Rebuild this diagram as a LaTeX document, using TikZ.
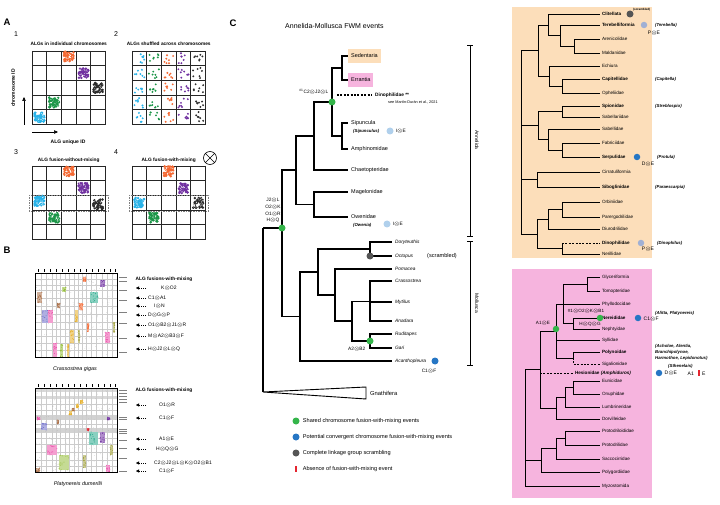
\documentclass[tikz,border=0pt]{standalone}
\usepackage{fontspec}
\setmainfont{Liberation Sans}
\usetikzlibrary{arrows.meta, positioning, calc}

% colours
\definecolor{algorange}{RGB}{244,104,50}
\definecolor{algpurple}{RGB}{112,48,160}
\definecolor{algblack}{RGB}{45,45,45}
\definecolor{alggreen}{RGB}{28,150,72}
\definecolor{algcyan}{RGB}{40,178,232}
\definecolor{sedfill}{RGB}{252,222,186}
\definecolor{errfill}{RGB}{246,180,222}
\definecolor{fwmgreen}{RGB}{52,181,74}
\definecolor{fwmblue}{RGB}{38,118,196}
\definecolor{fwmlight}{RGB}{176,208,236}
\definecolor{fwmpale}{RGB}{160,176,212}
\definecolor{scramgray}{RGB}{85,85,85}
\definecolor{absred}{RGB}{228,38,48}
\definecolor{synbrown}{RGB}{170,110,70}
\definecolor{synteal}{RGB}{40,170,140}
\definecolor{synviolet}{RGB}{110,110,200}
\definecolor{synpink}{RGB}{235,80,170}
\definecolor{synyellow}{RGB}{230,175,40}
\definecolor{synolive}{RGB}{160,160,60}
\definecolor{synlime}{RGB}{150,190,60}

\newcommand{\fus}{\ensuremath{\otimes}}
% dense ALG cluster in one cell
\newcommand{\algblob}[3]{%
  \foreach \k in {1,...,48} \fill[#3] ({#1+2.4+9.9*rnd},{#2+2.4+9.9*rnd}) circle (1.35pt);
  \foreach \k in {1,...,16} \fill[white] ({#1+3+8.7*rnd},{#2+3+8.7*rnd}) circle (0.35pt);}
% ALG dots shuffled in one cell
\newcommand{\algscatter}[3]{%
  \foreach \k in {1,...,7} \fill[#3] ({#1+2.2+10.3*rnd},{#2+2.2+10.3*rnd}) circle (1.05pt);}
% block of syntenic dots in a dot plot
\newcommand{\synblock}[5]{%
  \fill[#5!55] (#1,#2) rectangle (#3,#4);
  \foreach \k in {1,...,14} \fill[#5] ({#1+(#3-#1)*rnd},{#2+(#4-#2)*rnd}) circle (0.5pt);}

\tikzset{
  panel/.style={font=\fontsize{9.5}{10}\selectfont\bfseries, inner sep=0pt},
  subnum/.style={font=\fontsize{7}{7}\selectfont, inner sep=0pt},
  gridtitle/.style={font=\fontsize{4.8}{5}\selectfont\bfseries, inner sep=0pt},
  axislab/.style={font=\fontsize{5}{5}\selectfont\bfseries, inner sep=0pt},
  cellgrid/.style={line width=0.75pt, black!85},
  plotgrid/.style={line width=0.2pt, gray!40},
  fuslab/.style={font=\fontsize{5}{5}\selectfont, inner sep=1pt, anchor=west},
  fusarr/.style={line width=0.4pt, dash pattern=on 1.2pt off 0.9pt, -{Triangle[length=3pt,width=3pt]}},
  spname/.style={font=\fontsize{5.4}{6}\selectfont\itshape},
  br/.style={line width=1.1pt},
  rbr/.style={line width=0.85pt},
  treedash/.style={dash pattern=on 2pt off 1.4pt},
  leaf/.style={anchor=west, inner sep=3pt, font=\fontsize{5.5}{6}\selectfont},
  mleaf/.style={anchor=west, inner sep=3pt, font=\fontsize{4.8}{6}\selectfont\itshape},
  rleaf/.style={anchor=west, inner sep=1.8pt, font=\fontsize{4.6}{5}\selectfont},
  rpar/.style={anchor=west, inner sep=0pt, font=\fontsize{4.3}{5}\selectfont\bfseries\itshape},
  evlab/.style={font=\fontsize{4.8}{5}\selectfont, inner sep=0.5pt},
  evdot/.style={circle, fill=#1, inner sep=0pt, minimum size=7pt},
  legtext/.style={font=\fontsize{5.6}{6}\selectfont, anchor=west, inner sep=0pt},
  clade/.style={rotate=-90, font=\fontsize{5}{5}\selectfont, inner sep=0pt}
}

\begin{document}
\begin{tikzpicture}[x=1pt, y=-1pt]
\fill[white, use as bounding box] (0,0) rectangle (720,505);
\pgfmathsetseed{42}

% Panel A: ALG grids
\node[panel] (pA) at (7,22) {A};
\foreach \gx/\gy/\ny/\ty/\num/\ttl in {32/51/34/44/1/ALGs in individual chromosomes, 132/51/34/44/2/ALGs shuffled across chromosomes, 32/166/152/160/3/ALG fusion-without-mixing, 132/166/152/160/4/ALG fusion-with-mixing} {
  \node[subnum] (num\num) at (\gx-16,\ny) {\num};
  \node[gridtitle] (ttl\num) at (\gx+36.75,\ty) {\ttl};
  \foreach \i in {0,...,5} {
    \draw[cellgrid] (\gx+\i*14.7,\gy) -- (\gx+\i*14.7,\gy+73.5);
    \draw[cellgrid] (\gx,\gy+\i*14.7) -- (\gx+73.5,\gy+\i*14.7);
  }
}
% grid 1
\algblob{61.4}{49}{algorange}
\algblob{76.1}{65.7}{algpurple}
\algblob{90.8}{80.4}{algblack}
\algblob{46.7}{95.1}{alggreen}
\algblob{32}{109.8}{algcyan}
% grid 2
\foreach \r in {0,...,4}
  \foreach \c/\col in {0/algcyan,1/alggreen,2/algorange,3/algpurple,4/algblack}
    \algscatter{132+\c*14.7}{51+\r*14.7}{\col};
% grid 3
\algblob{61.4}{164}{algorange}
\algblob{76.1}{180.7}{algpurple}
\algblob{32}{193.5}{algcyan}
\algblob{90.8}{197}{algblack}
\algblob{46.7}{210.1}{alggreen}
\draw[gray, line width=0.4pt, dash pattern=on 1.5pt off 1pt] (29,195) rectangle (108.5,211);
% grid 4
\algblob{161.4}{164}{algorange}
\algblob{176.1}{180.7}{algpurple}
\algblob{132}{195.4}{algcyan}
\algblob{190.8}{195.4}{algblack}
\foreach \k in {1,...,25} \fill[white] ({193+11*rnd},{197+12*rnd}) circle (0.45pt);
\algblob{146.7}{210.1}{alggreen}
\draw[gray, line width=0.4pt, dash pattern=on 1.5pt off 1pt] (129,195) rectangle (208.5,211);
\node[draw, circle, line width=0.6pt, minimum size=13pt, inner sep=0pt] (mixsym) at (210,158) {};
\draw[line width=0.6pt] (mixsym.north west) -- (mixsym.south east) (mixsym.north east) -- (mixsym.south west);
% axes
\draw[line width=0.5pt, -{Triangle[length=4pt,width=3.5pt]}] (24,125) -- (24,97);
\node[axislab, rotate=90] (ylab) at (13,88) {chromosome ID};
\draw[line width=0.5pt, -{Triangle[length=4pt,width=3.5pt]}] (32,132) -- (58,132);
\node[axislab] (xlab) at (68,142) {ALG unique ID};

% Panel B: dot plots
\node[panel] (pB) at (7,250) {B};
\coordinate (arrS) at (146,0);
\coordinate (arrT) at (136,0);
% Crassostrea gigas
\foreach \gx in {41,46,52,56,60,65,69,74,78,82,86,91,96,102,107,112} \draw[plotgrid] (\gx,273) -- (\gx,357);
\foreach \gy in {279,285,290,298,306,314,322,329,336,343,350} \draw[plotgrid] (35,\gy) -- (117,\gy);
\foreach \k in {1,...,170} \fill[gray!75] ({35.5+81*rnd},{273.5+83*rnd}) circle (0.22pt);
\synblock{37}{292}{42}{303}{synbrown}
\synblock{62}{287}{66}{292}{synlime}
\synblock{83}{277}{86}{282}{algorange}
\synblock{100}{280}{105}{287}{algpurple}
\synblock{90}{292}{98}{303}{synteal}
\synblock{57}{303}{60}{308}{synbrown}
\synblock{79}{303}{83}{310}{algorange}
\synblock{42}{310}{48}{323}{synviolet}
\synblock{48}{310}{53}{323}{synpink}
\synblock{75}{310}{78}{322}{synyellow}
\synblock{87}{323}{89}{332}{algorange}
\synblock{70}{330}{74}{343}{synyellow}
\synblock{78}{330}{80}{343}{synolive}
\synblock{105}{332}{110}{343}{synpink}
\synblock{113}{322}{115}{332}{synolive}
\synblock{53}{343}{57}{357}{synpink}
\synblock{60}{344}{63}{357}{synlime}
\synblock{67}{344}{69}{357}{synyellow}
\draw[line width=0.4pt] (35,273) rectangle (117,357);
\foreach \gx in {38,44,50,56,62,68,74,80,86,92,98,104,110,115} \draw[line width=0.3pt] (\gx,269) -- (\gx,271.5);
\foreach \gy in {277,281,290,300,312,323,338,352} \draw[gray, line width=0.6pt] (119,\gy) -- (127,\gy);
\node[spname] (cgname) at (75,369) {Crassostrea gigas};
\node[gridtitle] (cgtitle) at (164,279) {ALG fusions-with-mixing};
\foreach \lx/\ly/\lt [count=\i] in {160/288/K\fus O2, 147/298/C1\fus A1, 153/306/I\fus N, 147/315/D\fus G\fus P, 147/325/O1\fus B2\fus J1\fus R, 147/336/M\fus A2\fus B3\fus F, 147/349/H\fus J2\fus L\fus Q} {
  \node[fuslab] (cg\i) at (\lx,\ly) {\lt};
  \draw[fusarr] (cg\i.west -| arrS) -- (cg\i.west -| arrT);
}
% Platynereis dumerilii
\fill[gray!30] (35,389) rectangle (117,392);
\fill[gray!30] (35,396) rectangle (117,399);
\fill[gray!35] (35,415) rectangle (117,420);
\fill[gray!35] (35,428) rectangle (117,433);
\foreach \gx in {41,46,52,56,60,65,69,74,78,82,86,91,96,102,107,112} \draw[plotgrid] (\gx,388) -- (\gx,472);
\foreach \gy in {404,410,424,438,444,452,460,466} \draw[plotgrid] (35,\gy) -- (117,\gy);
\foreach \k in {1,...,220} \fill[gray!75] ({35.5+81*rnd},{388.5+83*rnd}) circle (0.22pt);
\synblock{80}{400}{83}{404}{synyellow}
\synblock{76}{404}{79}{408}{synyellow}
\synblock{72}{408}{75}{411}{synbrown}
\synblock{69}{411}{72}{415}{synyellow}
\synblock{37}{417}{40}{420}{synpink}
\synblock{57}{420}{59}{424}{synbrown}
\synblock{107}{417}{110}{420}{algpurple}
\synblock{41}{423}{47}{430}{synviolet}
\synblock{87}{428}{89}{431}{absred}
\synblock{89}{432}{98}{445}{synteal}
\synblock{100}{432}{105}{443}{algpurple}
\synblock{110}{445}{113}{455}{synolive}
\synblock{47}{445}{57}{455}{synpink}
\synblock{59}{455}{69}{470}{synlime}
\synblock{83}{455}{86}{468}{synolive}
\synblock{106}{465}{110}{472}{synpink}
\synblock{36}{468}{40}{472}{synbrown}
\draw[line width=0.4pt] (35,388) rectangle (117,472);
\foreach \gx in {38,44,50,56,62,68,74,80,86,92,98,104,110,115} \draw[line width=0.3pt] (\gx,384) -- (\gx,386.5);
\foreach \gy in {390,393,396,399,402,417,419,429,431,433,440,448,458,471} \draw[gray, line width=0.6pt] (119,\gy) -- (127,\gy);
\node[spname] (pdname) at (78,484) {Platynereis dumerilii};
\node[gridtitle] (pdtitle) at (164,390) {ALG fusions-with-mixing};
\foreach \lx/\ly/\lt [count=\i] in {158/405/O1\fus R, 158/418/C1\fus F, 158/439/A1\fus E, 155/449/H\fus Q\fus G, 153/463/C2\fus J2\fus L\fus K\fus O2\fus B1, 158/471/C1\fus F} {
  \node[fuslab] (pd\i) at (\lx,\ly) {\lt};
  \draw[fusarr] (pd\i.west -| arrS) -- (pd\i.west -| arrT);
}

% Panel C: Annelida-Mollusca tree
\node[panel] (pC) at (233,23) {C};
\node[anchor=west, inner sep=0pt, font=\fontsize{7}{7}\selectfont] (ctitle) at (285,26) {Annelida-Mollusca FWM events};
% leaves
\node[leaf, fill=sedfill, minimum height=14pt] (sed) at (348,56) {Sedentaria};
\node[leaf, fill=errfill, minimum height=14pt] (err) at (348,80) {Errantia};
\node[leaf, font=\fontsize{4.8}{5}\selectfont\bfseries] (dino) at (372,95) {Dinophilidae **};
\node[anchor=west, inner sep=0pt, font=\fontsize{3.8}{4}\selectfont] (dinoref) at (388,102) {see Martín-Durán et al., 2021};
\node[leaf] (sip) at (348,123) {Sipuncula};
\node[leaf] (amph) at (348,149) {Amphinomidae};
\node[leaf] (chae) at (348,170) {Chaetopteridae};
\node[leaf] (mage) at (348,192) {Magelonidae};
\node[leaf] (owen) at (348,217) {Owenidae};
\node[rpar] (sipsub) at (353,131) {(Sipunculus)};
\node[rpar] (owensub) at (353,225) {(Owenia)};
\foreach \nm/\y/\lbl in {dory/242/Doryteuthis, octo/256/Octopus, poma/269/Pomacea, cras/281/Crassostrea, myti/302/Mytilus, anad/321/Anadara, rudi/334/Ruditapes, gari/348/Gari, acan/361/Acanthopleura}
  \node[mleaf] (\nm) at (392,\y) {\lbl};
% inner nodes
\coordinate (cSE) at (342,68);
\coordinate (cSA) at (342,136);
\coordinate (cPl) at (332,102);
\coordinate (cCh) at (314,136);
\coordinate (cMO) at (314,204.5);
\coordinate (cAn) at (296,170);
\coordinate (cDO) at (370,249);
\coordinate (cCMA) at (370,301.5);
\coordinate (cRG) at (370,341);
\coordinate (cBiv) at (352,321);
\coordinate (cPB) at (335,295);
\coordinate (cCe) at (318,272);
\coordinate (cMol) at (300,316.5);
\coordinate (cLo) at (282,228);
\coordinate (cRoot) at (263,228);
\coordinate (gnTip) at (263,392);
\draw[br] (cSE) |- (sed.west) (cSE) |- (err.west)
  (cSA) |- (sip.west) (cSA) |- (amph.west)
  (cPl) |- (cSE) (cPl) |- (cSA)
  (cCh) |- (cPl) (cCh) |- (chae.west)
  (cMO) |- (mage.west) (cMO) |- (owen.west)
  (cAn) |- (cCh) (cAn) |- (cMO)
  (cLo) |- (cAn) (cLo) |- (cMol)
  (cRoot) -- (cLo) (cRoot) -- (gnTip)
  (cMol) |- (cCe) (cMol) |- (acan.west)
  (cCe) |- (cDO) (cCe) |- (cPB)
  (cDO) |- (dory.west) (cDO) |- (octo.west)
  (cPB) |- (poma.west) (cPB) |- (cBiv)
  (cBiv) |- (cCMA) (cBiv) |- (cRG)
  (cCMA) |- (cras.west) (cCMA) |- (myti.west) (cCMA) |- (anad.west)
  (cRG) |- (rudi.west) (cRG) |- (gari.west);
\draw[br, treedash] ([xshift=5pt]cPl |- dino) -- (dino.west);
% Gnathifera
\draw[line width=0.9pt, line join=miter] (gnTip) -- (366,387) -- (366,399) -- cycle;
\node[leaf, font=\fontsize{5.8}{6}\selectfont] (gnat) at (367,393) {Gnathifera};
% events
\node[evdot=fwmgreen] (ePl) at (cPl) {};
\node[evdot=fwmgreen] (eLo) at (cLo) {};
\node[evdot=scramgray] (eOc) at (cDO |- octo) {};
\node[evdot=fwmgreen] (eRG) at (cRG) {};
\node[evdot=fwmlight] (eSip) at (390,131) {};
\node[evdot=fwmlight] (eOw) at (387,224) {};
\node[evdot=fwmblue] (eAc) at (435,361) {};
\node[evlab, anchor=east] (lPl) at (329,92) {\textsuperscript{\#1}C2\fus J2\fus L};
\node[evlab, align=center, font=\fontsize{4.8}{6.8}\selectfont] (lLo) at (273,210.5) {J2\fus L\\O2\fus K\\O1\fus R\\H\fus Q};
\node[evlab, anchor=east] (lRG) at (366,349) {A2\fus B2};
\node[evlab, anchor=west] (lSip) at ([xshift=1.5pt]eSip.east) {I\fus E};
\node[evlab, anchor=west] (lOw) at ([xshift=1.5pt]eOw.east) {I\fus E};
\node[evlab] (lAc) at (429,371) {C1\fus F};
\node[anchor=west, inner sep=0pt, font=\fontsize{5.6}{6}\selectfont] (scr) at (427,256) {(scrambled)};
% clade brackets
\draw[line width=0.5pt] (467,45) -- (473,45) (470,45) -- (470,236) (467,236) -- (473,236);
\node[clade] (annlab) at (477,140) {Annelida};
\draw[line width=0.5pt] (467,241) -- (473,241) (470,241) -- (470,365) (467,365) -- (473,365);
\node[clade] (mollab) at (477,303) {Mollusca};

% legend
\node[evdot=fwmgreen] (lg1) at (296,421) {};
\node[legtext, right=3pt of lg1] (lgt1) {Shared chromosome fusion-with-mixing events};
\node[evdot=fwmblue] (lg2) at (296,437) {};
\node[legtext, right=3pt of lg2] (lgt2) {Potential convergent chromosome fusion-with-mixing events};
\node[evdot=scramgray] (lg3) at (296,453) {};
\node[legtext, right=3pt of lg3] (lgt3) {Complete linkage group scrambling};
\node[fill=absred, minimum width=1.8pt, minimum height=6pt, inner sep=0pt] (lg4) at (296,469) {};
\node[legtext, right=5.5pt of lg4] (lgt4) {Absence of fusion-with-mixing event};

% Sedentaria tree
\fill[sedfill] (512,7) rectangle (652,258);
\foreach \nm/\y/\lbl in {o1/14/\textbf{Clitellata}, o2/25/\textbf{Terebelliformia}, o3/39/Arenicolidae, o4/53/Maldanidae, o5/66/Echiura, o6/79/\textbf{Capitellidae}, o7/93/Opheliidae, o8/106/\textbf{Spionidae}, o9/117/Sabellariidae, o10/129/Sabellidae, o11/143/Fabriciidae, o12/157/\textbf{Serpulidae}, o13/172/Cirratuliformia, o14/187/\textbf{Siboglinidae}, o15/202/Orbiniidae, o16/217/Parergodrilidae, o17/229/Diurodrilidae, o18/243/\textbf{Dinophilidae}, o19/254/Nerillidae}
  \node[rleaf] (\nm) at (600,\y) {\lbl};
\coordinate (oAM) at (574,46);
\coordinate (oTA) at (560,35.5);
\coordinate (oCT) at (548,25);
\coordinate (oCO) at (562,86);
\coordinate (oEC) at (549,76);
\coordinate (oU1) at (538,50.5);
\coordinate (oSS) at (562,111.5);
\coordinate (oFS) at (562,150);
\coordinate (oSF) at (548,139.5);
\coordinate (oU2) at (538,125.5);
\coordinate (oCS) at (537,179.5);
\coordinate (oOP) at (562,209.5);
\coordinate (oOD) at (548,219.25);
\coordinate (oDN) at (562,248.5);
\coordinate (oU4) at (537,234);
\coordinate (oRoot) at (521,142);
\draw[rbr] (oAM) |- (o3.west) (oAM) |- (o4.west)
  (oTA) |- (o2.west) (oTA) |- (oAM)
  (oCT) |- (o1.west) (oCT) |- (oTA)
  (oCO) |- (o6.west) (oCO) |- (o7.west)
  (oEC) |- (o5.west) (oEC) |- (oCO)
  (oU1) |- (oCT) (oU1) |- (oEC)
  (oSS) |- (o8.west) (oSS) |- (o9.west)
  (oFS) |- (o11.west) (oFS) |- (o12.west)
  (oSF) |- (o10.west) (oSF) |- (oFS)
  (oU2) |- (oSS) (oU2) |- (oSF)
  (oCS) |- (o13.west) (oCS) |- (o14.west)
  (oOP) |- (o15.west) (oOP) |- (o16.west)
  (oOD) |- (oOP) (oOD) |- (o17.west)
  (oDN) |- (o19.west) (oDN) -- (oDN |- o18)
  (oU4) |- (oOD) (oU4) |- (oDN)
  (oRoot) |- (oU1) (oRoot) |- (oU2) (oRoot) |- (oCS) (oRoot) |- (oU4);
\draw[rbr, treedash] (oDN |- o18) -- (o18.west);
% Sedentaria events
\node[evdot=scramgray] (eCl) at (630,14) {};
\node[anchor=south west, inner sep=0.3pt, font=\fontsize{3}{3}\selectfont\bfseries] (lCl) at (eCl.north east) {(scrambled)};
\node[evdot=fwmpale, minimum size=6.5pt] (eTe) at (644,25) {};
\node[evlab, font=\fontsize{5}{5}\selectfont] (lTe) at (654,33) {P\fus E};
\node[rpar] (sTe) at (655,25) {(Terebella)};
\node[rpar] (sCa) at (655,79) {(Capitella)};
\node[rpar] (sSp) at (655,106) {(Streblospio)};
\node[evdot=fwmblue, minimum size=6.5pt] (eSe) at (637,157) {};
\node[evlab, font=\fontsize{5}{5}\selectfont] (lSe) at (648,164) {D\fus E};
\node[rpar] (sSe) at (657,157) {(Protula)};
\node[rpar] (sSi) at (655,187) {(Paraescarpia)};
\node[evdot=fwmpale, minimum size=6.5pt] (eDi) at (641,243) {};
\node[evlab, font=\fontsize{5}{5}\selectfont] (lDi) at (648,249.5) {P\fus E};
\node[rpar] (sDi) at (657,243) {(Dinophilus)};

% Errantia tree
\fill[errfill] (512,269) rectangle (652,498);
\foreach \nm/\y/\lbl in {p1/277/Glyceriformia, p2/291/Tomopteridae, p3/304/Phyllodocidae, p4/318/\textbf{Nereididae}, p5/329/Nephtyidae, p6/340/Syllidae, p7/352/\textbf{Polynoidae}, p8/364/Sigalionidae, p10/381/Eunicidae, p11/394/Onuphidae, p12/407/Lumbrineridae, p13/419/Dorvilleidae, p14/431/Protodriloididae, p15/445/Protodrilidae, p16/459/Saccocirridae, p17/472/Polygordiidae, p18/486/Myzostomida}
  \node[rleaf] (\nm) at (600,\y) {\lbl};
\node[rleaf] (p9) at (573,373) {\textbf{Hesionidae} \textbf{\textit{(Amphiduros)}}};
\coordinate (pGT) at (587,284);
\coordinate (pNN) at (573,323.5);
\coordinate (pUp) at (563,304);
\coordinate (pPS) at (573,358);
\coordinate (pA) at (556,331);
\coordinate (pEO) at (573,387.5);
\coordinate (pEL) at (565,397);
\coordinate (pED) at (556,408);
\coordinate (pB) at (540,369.5);
\coordinate (pPP) at (565,438);
\coordinate (pPS2) at (556,448.5);
\coordinate (pPG) at (541,460);
\coordinate (pRoot) at (525,428);
\draw[rbr] (pGT) |- (p1.west) (pGT) |- (p2.west)
  (pNN) |- (p4.west) (pNN) |- (p5.west)
  (pUp) |- (pGT) (pUp) |- (p3.west) (pUp) |- (pNN)
  (pPS) |- (p7.west)
  (pA) |- (pUp) (pA) |- (p6.west) (pA) |- (pPS)
  (pEO) |- (p10.west) (pEO) |- (p11.west)
  (pEL) |- (pEO) (pEL) |- (p12.west)
  (pED) |- (pEL) (pED) |- (p13.west)
  (pB) |- (pA) (pB) |- (pED)
  (pPP) |- (p14.west) (pPP) |- (p15.west)
  (pPS2) |- (pPP) (pPS2) |- (p16.west)
  (pPG) |- (pPS2) (pPG) |- (p17.west)
  (pRoot) |- (pB) (pRoot) |- (pPG) (pRoot) |- (p18.west);
\draw[rbr, treedash] (pPS) |- (p8.west) (pB |- p9) -- (p9.west);
% Errantia events
\node[evdot=fwmgreen, minimum size=6.5pt] (eNe) at (p4.west) {};
\node[evlab, font=\fontsize{4.6}{5}\selectfont] (lNe1) at (586,311) {\#1\fus O2\fus K\fus B1};
\node[evlab, font=\fontsize{4.6}{5}\selectfont] (lNe2) at (590,324.5) {H\fus Q\fus G};
\node[evdot=fwmblue, minimum size=6.5pt] (eNe2) at (638,318) {};
\node[evlab, anchor=west, font=\fontsize{5}{5}\selectfont] (lNe3) at (643,319.5) {C1\fus F};
\node[rpar] (sNe) at (655,313) {(Alitta, Platynereis)};
\node[evdot=fwmgreen, minimum size=6.5pt] (eA) at (556,329) {};
\node[evlab, font=\fontsize{4.6}{5}\selectfont] (lA) at (543,323) {A1\fus E};
\node[rpar, align=left, font=\fontsize{4.3}{6}\selectfont\bfseries\itshape] (sPo) at (655,352) {(Acholoe, Alentia,\\Branchipolynoe,\\Harmothoe, Lepidonotus)};
\node[rpar] (sSg) at (668,366) {(Sthenelais)};
\node[evdot=fwmblue, minimum size=6.5pt] (eSg) at (659,373) {};
\node[evlab, anchor=west, font=\fontsize{5}{5}\selectfont] (lSg) at (664,373.5) {D\fus E};
\node[evlab, anchor=west, font=\fontsize{5}{5}\selectfont] (lSgA) at (687,373.5) {A1};
\node[fill=absred, minimum width=1.8pt, minimum height=6pt, inner sep=0pt] (rSg) at (699,373) {};
\node[evlab, anchor=west, font=\fontsize{5}{5}\selectfont] (lSgE) at (701.5,373.5) {E};
\end{tikzpicture}
\end{document}
